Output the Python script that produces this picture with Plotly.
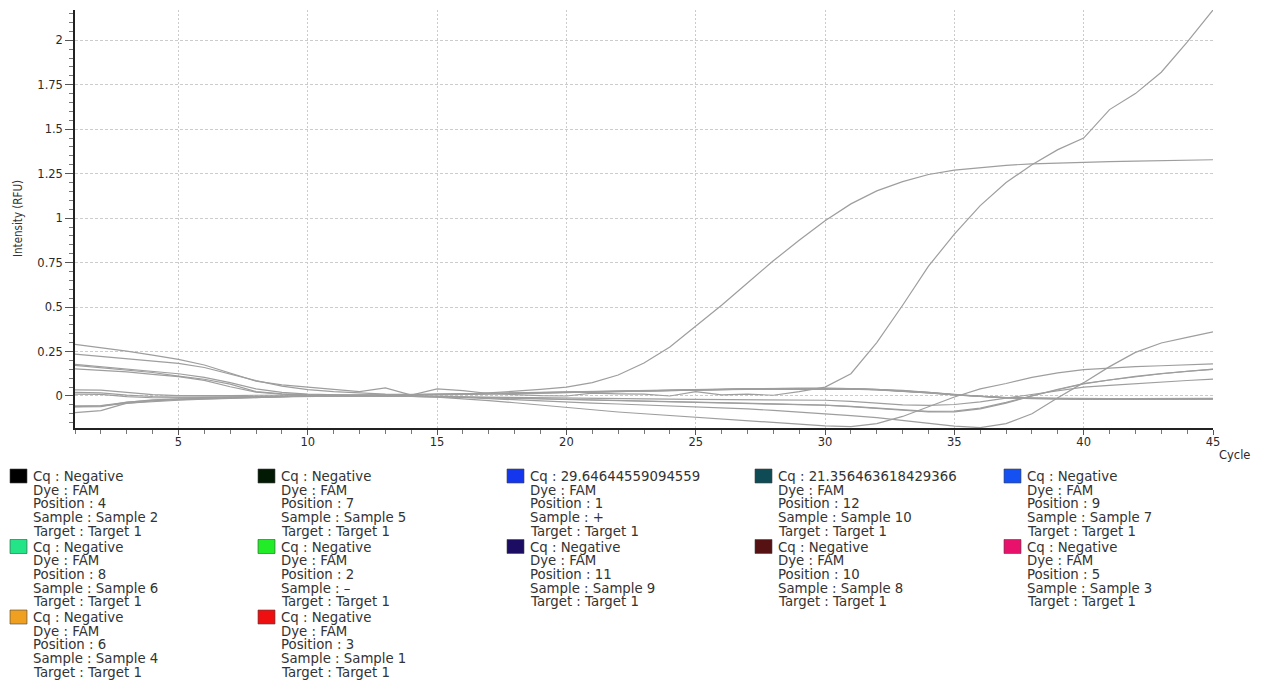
import plotly.graph_objects as go

# ---------------- data ----------------
cycles = list(range(1, 46))

# Amplification curves (RFU), one per well, cycles 1..45
pos12_sample10 = [0.235, 0.222, 0.210, 0.197, 0.183, 0.160, 0.124, 0.086, 0.055, 0.036,
                  0.024, 0.016, 0.011, 0.008, 0.008, 0.010, 0.017, 0.026, 0.037, 0.050,
                  0.075, 0.118, 0.185, 0.275, 0.390, 0.510, 0.635, 0.760, 0.875, 0.985,
                  1.080, 1.153, 1.205, 1.245, 1.270, 1.285, 1.297, 1.305, 1.310, 1.315,
                  1.318, 1.320, 1.323, 1.325, 1.328]
pos1_plus = [0.290, 0.272, 0.252, 0.230, 0.206, 0.174, 0.127, 0.084, 0.062, 0.049,
             0.037, 0.024, 0.045, 0.005, 0.040, 0.030, 0.014, 0.006, 0.002, 0.000,
             0.016, 0.012, 0.011, 0.000, 0.024, 0.006, 0.011, 0.004, 0.024, 0.050,
             0.125, 0.300, 0.510, 0.730, 0.910, 1.070, 1.200, 1.300, 1.385, 1.450,
             1.610, 1.700, 1.820, 1.990, 2.170]
pos3_sample1 = [-0.094, -0.082, -0.040, -0.030, -0.024, -0.018, -0.013, -0.008, -0.004, 0.000,
                0.002, 0.002, 0.000, -0.002, -0.006, -0.015, -0.026, -0.038, -0.052, -0.066,
                -0.078, -0.090, -0.100, -0.110, -0.118, -0.128, -0.138, -0.148, -0.158, -0.168,
                -0.172, -0.155, -0.115, -0.060, -0.006, 0.040, 0.070, 0.105, 0.130, 0.148,
                0.158, 0.165, 0.170, 0.176, 0.180]
pos6_sample4 = [-0.060, -0.056, -0.042, -0.028, -0.021, -0.016, -0.011, -0.007, -0.003, 0.000,
                0.002, 0.003, 0.002, 0.000, -0.003, -0.008, -0.015, -0.022, -0.029, -0.035,
                -0.040, -0.045, -0.050, -0.055, -0.060, -0.066, -0.073, -0.081, -0.090, -0.100,
                -0.110, -0.122, -0.137, -0.154, -0.170, -0.178, -0.155, -0.100, -0.010, 0.075,
                0.165, 0.245, 0.298, 0.330, 0.360]
pos5_sample3 = [-0.055, -0.054, -0.036, -0.022, -0.017, -0.013, -0.010, -0.006, -0.003, 0.000,
                0.001, 0.001, 0.000, -0.002, -0.004, -0.007, -0.010, -0.013, -0.016, -0.019,
                -0.022, -0.025, -0.028, -0.031, -0.034, -0.037, -0.040, -0.043, -0.047, -0.052,
                -0.060, -0.070, -0.082, -0.090, -0.089, -0.072, -0.040, 0.000, 0.035, 0.068,
                0.090, 0.108, 0.125, 0.139, 0.150]
pos10_sample8 = [0.010, 0.009, -0.004, -0.010, -0.011, -0.009, -0.006, -0.004, -0.002, 0.000,
                 0.001, 0.001, 0.000, -0.001, -0.003, -0.006, -0.009, -0.012, -0.015, -0.018,
                 -0.021, -0.024, -0.027, -0.030, -0.033, -0.036, -0.039, -0.042, -0.046, -0.051,
                 -0.058, -0.068, -0.079, -0.087, -0.085, -0.068, -0.036, 0.003, 0.038, 0.070,
                 0.092, 0.110, 0.126, 0.140, 0.151]
pos11_sample9 = [0.020, 0.018, 0.005, -0.003, -0.006, -0.005, -0.004, -0.002, -0.001, 0.000,
                 0.001, 0.001, 0.000, -0.002, -0.004, -0.006, -0.008, -0.010, -0.012, -0.014,
                 -0.015, -0.016, -0.017, -0.018, -0.019, -0.020, -0.021, -0.022, -0.023, -0.024,
                 -0.030, -0.040, -0.050, -0.053, -0.048, -0.033, -0.012, 0.012, 0.033, 0.050,
                 0.060, 0.070, 0.078, 0.087, 0.095]
pos4_sample2 = [0.178, 0.165, 0.152, 0.140, 0.125, 0.105, 0.075, 0.040, 0.020, 0.010,
                0.005, 0.004, 0.004, 0.005, 0.007, 0.010, 0.013, 0.016, 0.019, 0.022,
                0.025, 0.028, 0.031, 0.034, 0.036, 0.038, 0.040, 0.042, 0.043, 0.043,
                0.041, 0.037, 0.029, 0.019, 0.007, -0.003, -0.009, -0.012, -0.014, -0.015,
                -0.015, -0.015, -0.014, -0.014, -0.013]
pos7_sample5 = [0.172, 0.160, 0.148, 0.132, 0.112, 0.094, 0.067, 0.025, 0.012, 0.006,
                0.004, 0.003, 0.003, 0.004, 0.006, 0.009, 0.012, 0.015, 0.018, 0.021,
                0.024, 0.027, 0.030, 0.032, 0.035, 0.037, 0.039, 0.040, 0.041, 0.041,
                0.040, 0.036, 0.030, 0.020, 0.008, -0.002, -0.010, -0.014, -0.016, -0.017,
                -0.017, -0.017, -0.017, -0.016, -0.016]
pos9_sample7 = [0.152, 0.145, 0.135, 0.122, 0.109, 0.088, 0.052, 0.022, 0.010, 0.005,
                0.003, 0.003, 0.004, 0.006, 0.009, 0.012, 0.015, 0.018, 0.021, 0.024,
                0.027, 0.030, 0.033, 0.035, 0.037, 0.039, 0.041, 0.043, 0.044, 0.044,
                0.042, 0.038, 0.031, 0.021, 0.009, -0.002, -0.009, -0.013, -0.015, -0.016,
                -0.016, -0.016, -0.016, -0.015, -0.015]
pos8_sample6 = [0.034, 0.033, 0.020, 0.008, 0.002, 0.000, 0.002, 0.004, 0.004, 0.003,
                0.003, 0.003, 0.004, 0.005, 0.007, 0.009, 0.012, 0.015, 0.017, 0.020,
                0.023, 0.026, 0.028, 0.031, 0.033, 0.035, 0.037, 0.038, 0.039, 0.039,
                0.038, 0.034, 0.027, 0.017, 0.006, -0.004, -0.011, -0.015, -0.018, -0.019,
                -0.019, -0.019, -0.019, -0.018, -0.018]
pos2_minus = [-0.062, -0.060, -0.035, -0.024, -0.018, -0.012, -0.008, -0.004, -0.001, 0.001,
              0.002, 0.003, 0.004, 0.005, 0.007, 0.010, 0.013, 0.016, 0.019, 0.022,
              0.025, 0.028, 0.031, 0.033, 0.035, 0.037, 0.039, 0.041, 0.042, 0.042,
              0.040, 0.035, 0.028, 0.018, 0.006, -0.004, -0.010, -0.013, -0.015, -0.016,
              -0.016, -0.016, -0.016, -0.015, -0.015]

# Legend entries (row-major order as shown)
legend_cq = ["Negative", "Negative", "29.64644559094559", "21.356463618429366", "Negative",
             "Negative", "Negative", "Negative", "Negative", "Negative",
             "Negative", "Negative"]
legend_dye = ["FAM"] * 12
legend_position = ["4", "7", "1", "12", "9", "8", "2", "11", "10", "5", "6", "3"]
legend_sample = ["Sample 2", "Sample 5", "+", "Sample 10", "Sample 7",
                 "Sample 6", "–", "Sample 9", "Sample 8", "Sample 3",
                 "Sample 4", "Sample 1"]
legend_target = ["Target 1"] * 12
legend_colors = ["#000000", "#021a04", "#1437ee", "#0e4b55", "#1450f2",
                 "#24e488", "#22ec28", "#1c0c62", "#561212", "#e8126c",
                 "#f0a020", "#ee1010"]
curves = [pos4_sample2, pos7_sample5, pos1_plus, pos12_sample10, pos9_sample7,
          pos8_sample6, pos2_minus, pos11_sample9, pos10_sample8, pos5_sample3,
          pos6_sample4, pos3_sample1]

x_tick_vals = [5, 10, 15, 20, 25, 30, 35, 40, 45]
x_tick_text = ["5", "10", "15", "20", "25", "30", "35", "40", "45"]
y_tick_vals = [0, 0.25, 0.5, 0.75, 1, 1.25, 1.5, 1.75, 2]
y_tick_text = ["0", "0.25", "0.5", "0.75", "1", "1.25", "1.5", "1.75", "2"]

# ---------------- layout constants ----------------
W, H = 1261, 680
ML, MR, MT, MB = 75, 48, 10, 252
PW, PH = W - ML - MR, H - MT - MB


def px_x(p):
    return (p - ML) / PW


def px_y(p):
    return (H - MB - p) / PH


LINE_COLOR = "rgb(158,158,158)"
TEXT_COLOR = "#333333"
TICK_FONT = dict(family="DejaVu Sans, Verdana, sans-serif", size=11.5, color="#2a2a2a")
LEG_FONT = dict(family="DejaVu Sans, Verdana, sans-serif", size=13.3, color=TEXT_COLOR)

fig = go.Figure()
for i, ys in enumerate(curves):
    fig.add_trace(go.Scatter(
        x=cycles, y=ys, mode="lines",
        line=dict(color=LINE_COLOR, width=1.2),
        name=f"Position {legend_position[i]}",
        showlegend=False,
    ))

annotations = []
shapes = []

# custom legend grid
col_x = [10, 258, 507, 755, 1004]
row_y = [469, 539.5, 610]
for i in range(len(legend_cq)):
    r, c = divmod(i, 5)
    sx, sy = col_x[c], row_y[r]
    shapes.append(dict(type="rect", xref="paper", yref="paper",
                       x0=px_x(sx), x1=px_x(sx + 17), y0=px_y(sy + 14), y1=px_y(sy),
                       fillcolor=legend_colors[i], line=dict(color="#444444", width=0.6)))
    lines = [f"Cq : {legend_cq[i]}", f"Dye : {legend_dye[i]}",
             f"Position : {legend_position[i]}", f"Sample : {legend_sample[i]}",
             f"Target : {legend_target[i]}"]
    for k, t in enumerate(lines):
        annotations.append(dict(
            text=t, xref="paper", yref="paper",
            x=px_x(sx + 21), y=px_y(sy + 7.5 + 13.7 * k),
            xanchor="left", yanchor="middle", showarrow=False, font=LEG_FONT))

# axis titles
annotations.append(dict(text="Intensity (RFU)", xref="paper", yref="paper",
                        x=px_x(18), y=px_y(219), textangle=-90,
                        xanchor="center", yanchor="middle", showarrow=False,
                        font=dict(family="Liberation Sans Narrow, DejaVu Sans Condensed, Roboto, sans-serif",
                                  size=11.5, color="#333333")))
annotations.append(dict(text="Cycle", xref="paper", yref="paper",
                        x=px_x(1234), y=px_y(455),
                        xanchor="center", yanchor="middle", showarrow=False,
                        font=TICK_FONT))

fig.update_layout(
    width=W, height=H,
    margin=dict(l=ML, r=MR, t=MT, b=MB, pad=0),
    paper_bgcolor="white", plot_bgcolor="white",
    showlegend=False,
    annotations=annotations, shapes=shapes,
    xaxis=dict(
        range=[1, 45], tickmode="array", tickvals=x_tick_vals, ticktext=x_tick_text,
        ticks="outside", ticklen=5, tickcolor="#555555", tickwidth=1,
        ticklabelstandoff=-3,
        showline=True, linecolor="#222222", linewidth=1.5,
        showgrid=True, gridcolor="#cccccc", griddash="2px,2px", gridwidth=1,
        zeroline=False, tickfont=TICK_FONT,
        minor=dict(tickmode="linear", tick0=1, dtick=1, ticks="outside", ticklen=4,
                   tickcolor="#777777", showgrid=False),
    ),
    yaxis=dict(
        range=[-0.18, 2.17], tickmode="array", tickvals=y_tick_vals, ticktext=y_tick_text,
        ticks="outside", ticklen=8, tickcolor="#555555", tickwidth=1,
        showline=True, linecolor="#222222", linewidth=1.5,
        showgrid=True, gridcolor="#cccccc", griddash="3px,2px", gridwidth=1,
        zeroline=False, tickfont=TICK_FONT,
        minor=dict(tickmode="linear", tick0=0, dtick=0.05, ticks="outside", ticklen=4,
                   tickcolor="#777777", showgrid=False),
    ),
)

fig.write_html("out.html", config={"displayModeBar": False},
               post_script="document.body.style.margin='0';")
